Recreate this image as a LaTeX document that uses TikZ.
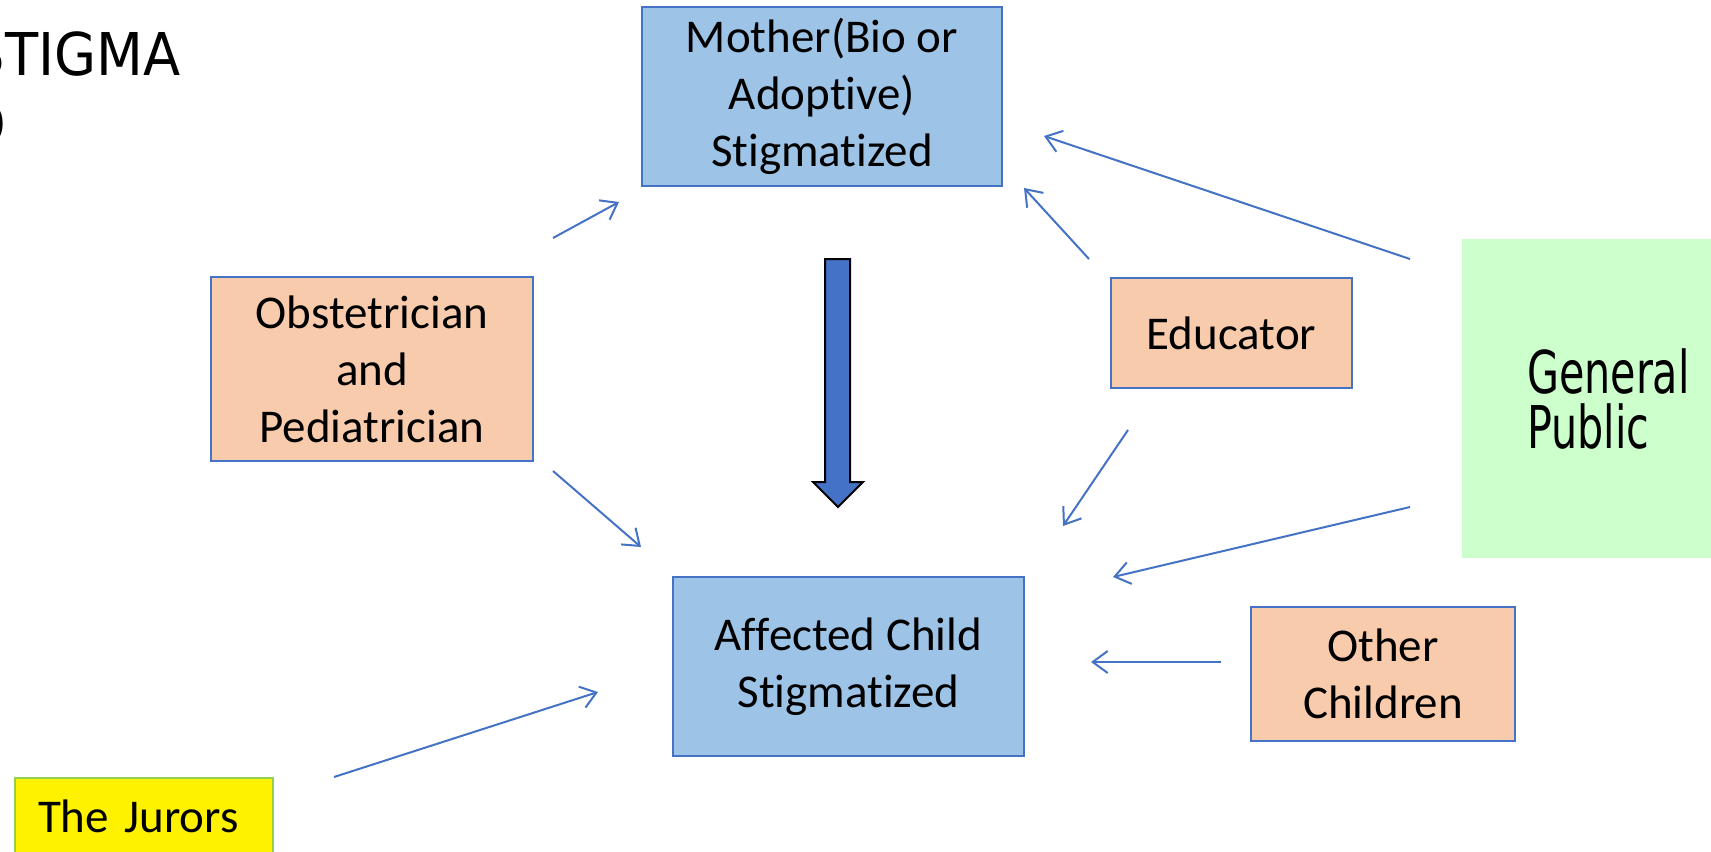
\documentclass[tikz,border=0pt]{standalone}
\usepackage{fontspec}
\setmainfont{Carlito}[Ligatures={NoCommon}]
\newfontfamily\titlefont[FakeStretch=0.92]{DejaVu Sans}
\newfontfamily\gpfont[FakeStretch=0.70]{DejaVu Sans}
\usetikzlibrary{arrows.meta}
\definecolor{boxblue}{HTML}{9DC3E6}
\definecolor{lineblue}{HTML}{4472C4}
\definecolor{peach}{HTML}{F8CBAD}
\definecolor{lightgreen}{HTML}{CCFFCC}
\definecolor{jgreen}{HTML}{92D050}
\begin{document}
\begin{tikzpicture}[x=0.5pt,y=-0.5pt,
  bodytext/.style={font=\fontsize{23.5}{28.5}\selectfont},
  basebox/.style={bodytext, draw=lineblue, line width=0.7pt, inner sep=0pt, align=center},
  bluebox/.style={basebox, fill=boxblue},
  peachbox/.style={basebox, fill=peach},
  conn/.style={draw=lineblue, line width=1pt, -{Straight Barb[length=7.5pt,width=11pt]}},
  bigarrow/.style={fill=lineblue, draw=black, line width=1pt, line join=miter}
]
\useasboundingbox (0,0) rectangle (1711,851);

% title (partly cut off)
\node[font=\titlefont\fontsize{29.5}{35}\selectfont, inner sep=0pt, anchor=base east] (title) at (181,75) {STIGMA};
\node[font=\titlefont\fontsize{29.5}{35}\selectfont, inner sep=0pt, anchor=base east] (title2) at (7,145) {D};

% boxes
\node[bluebox, minimum width=180pt, minimum height=89.5pt] (mother) at (822,96.5) {Mother(Bio or\\Adoptive)\\Stigmatized};
\node[peachbox, minimum width=161pt, minimum height=92pt] (obst) at (372,369) {Obstetrician\\and\\Pediatrician};
\node[peachbox, minimum width=120.5pt, minimum height=55pt] (edu) at (1231.5,333) {Educator};
\node[bluebox, minimum width=175.5pt, minimum height=89.5pt] (child) at (848.5,666.5) {Affected Child\\Stigmatized};
\node[peachbox, minimum width=132pt, minimum height=67pt] (other) at (1383,674) {Other\\Children};
\node[fill=lightgreen, minimum width=149pt, minimum height=159.5pt, inner ysep=0pt, inner xsep=32.5pt,
      text width=84pt, align=left, font=\gpfont\fontsize{29.5}{27.5}\selectfont] (gp) at (1611,398.5) {General\\Public};
\node[bodytext, fill=yellow, draw=jgreen, line width=0.7pt, minimum width=129pt, minimum height=38pt,
      inner ysep=0pt, inner xsep=11.5pt, text width=106pt, align=left] (jurors) at (144,816) {The Jurors};

% big arrow mother -> child
\draw[bigarrow] (825,259) -- (850,259) -- (850,482) -- (863,482) -- (838,507) -- (813,482) -- (825,482) -- cycle;

% connector end points
\coordinate (a1s) at (553,238);  \coordinate (a1e) at (619,202);
\coordinate (a2s) at (553,471);  \coordinate (a2e) at (641,547);
\coordinate (a3s) at (1089,259); \coordinate (a3e) at (1024,188);
\coordinate (a4s) at (1410,259); \coordinate (a4e) at (1044,136);
\coordinate (a5s) at (1128,430); \coordinate (a5e) at (1063,526);
\coordinate (a6s) at (1410,507); \coordinate (a6e) at (1113,577);
\coordinate (a7s) at (1221,662); \coordinate (a7e) at (1091,662);
\coordinate (a8s) at (334,777);  \coordinate (a8e) at (598,692);

\draw[conn] (a1s) -- (a1e);
\draw[conn] (a2s) -- (a2e);
\draw[conn] (a3s) -- (a3e);
\draw[conn] (a4s) -- (a4e);
\draw[conn] (a5s) -- (a5e);
\draw[conn] (a6s) -- (a6e);
\draw[conn] (a7s) -- (a7e);
\draw[conn] (a8s) -- (a8e);
\end{tikzpicture}
\end{document}
